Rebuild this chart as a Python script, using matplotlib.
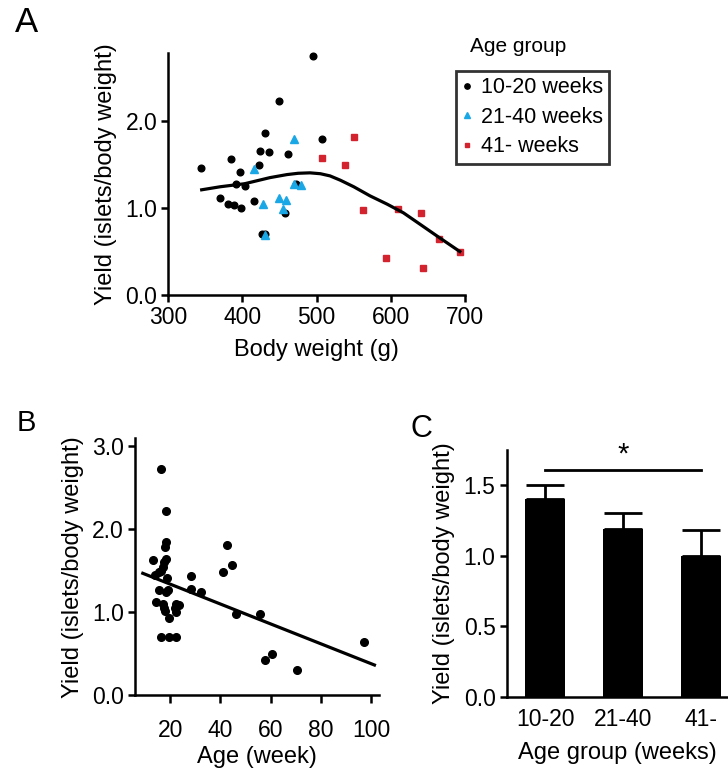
import matplotlib.pyplot as plt
import numpy as np

plt.rcParams['font.family'] = ['Liberation Sans', 'DejaVu Sans']

# ---- panel A: yield vs body weight, by age group
bw_young = [344, 495, 449, 431, 507, 385, 424, 436, 461, 396, 422, 391, 403, 472,
            370, 381, 389, 398, 415, 458, 426, 430]
yield_young = [1.46, 2.75, 2.23, 1.86, 1.80, 1.56, 1.66, 1.64, 1.62, 1.41, 1.49, 1.28,
               1.25, 1.28, 1.12, 1.05, 1.03, 1.00, 1.08, 0.94, 0.70, 0.70]
bw_mid = [469, 416, 469, 479, 449, 459, 428, 454, 430]
yield_mid = [1.80, 1.45, 1.28, 1.26, 1.11, 1.09, 1.05, 0.99, 0.69]
bw_old = [550, 507, 538, 562, 609, 641, 665, 693, 593, 643]
yield_old = [1.82, 1.58, 1.49, 0.98, 0.99, 0.94, 0.64, 0.50, 0.42, 0.31]
# smoothed fit
fit_bw = [345, 370, 403, 437, 460, 475, 491, 505, 518, 532, 550, 572, 595, 617, 640, 662, 693]
fit_yield = [1.21, 1.245, 1.28, 1.35, 1.385, 1.40, 1.405, 1.395, 1.37, 1.32, 1.245, 1.14,
             1.045, 0.945, 0.81, 0.68, 0.50]

# ---- panel B: yield vs age
age = [16.3, 18.5, 18.5, 18.1, 13.0, 18.5, 17.6, 17.3, 16.5, 15.6, 14.1, 18.8, 15.7,
       19.1, 18.5, 28.2, 28.2, 32.2, 14.4, 17.3, 17.5, 17.9, 19.6, 22.5, 23.5, 21.9,
       22.3, 16.3, 19.6, 22.3, 41.0, 42.8, 44.8, 46.3, 55.9, 57.8, 60.5, 70.5, 97.3]
yield_age = [2.73, 2.22, 1.85, 1.79, 1.63, 1.64, 1.61, 1.55, 1.50, 1.48, 1.45, 1.41,
             1.27, 1.27, 1.24, 1.44, 1.28, 1.25, 1.12, 1.10, 1.05, 1.01, 0.93, 1.10,
             1.09, 1.05, 1.00, 0.70, 0.70, 0.70, 1.48, 1.81, 1.57, 0.98, 0.98, 0.42,
             0.50, 0.31, 0.64]
reg_x = [9.1, 101.4]
reg_y = [1.47, 0.365]

# ---- panel C: mean yield per age group
groups = ['10-20', '21-40', '41-']
means = [1.40, 1.19, 1.00]
sem = [0.105, 0.11, 0.18]

W, H = 728, 777
fig = plt.figure(figsize=(W / 100, H / 100), dpi=100)

def box(l, t, r, b):
    return [l / W, 1 - b / H, (r - l) / W, (b - t) / H]

def style(ax):
    for s in ['top', 'right']:
        ax.spines[s].set_visible(False)
    for s in ['left', 'bottom']:
        ax.spines[s].set_linewidth(1.8)
    ax.tick_params(direction='out', width=1.8, length=5, labelsize=16.5, pad=3)

cyan = '#1AA7E6'
red = '#D2232E'
LAB = 17

# A
axA = fig.add_axes(box(168.3, 53.3, 465, 295))
style(axA)
axA.plot(bw_young, yield_young, 'o', color='black', ms=4.8, clip_on=False, label='10-20 weeks')
axA.plot(bw_mid, yield_mid, '^', color=cyan, ms=5.2, clip_on=False, label='21-40 weeks')
axA.plot(bw_old, yield_old, 's', color=red, ms=4.4, clip_on=False, label='41- weeks')
axA.plot(fit_bw, fit_yield, '-', color='black', lw=2.3)
axA.set_xlim(300, 700)
axA.set_ylim(0, 2.78)
axA.set_xticks([300, 400, 500, 600, 700])
axA.set_yticks([0, 1, 2])
axA.set_yticklabels(['0.0', '1.0', '2.0'])
axA.set_xlabel('Body weight (g)', fontsize=LAB, labelpad=7)
axA.set_ylabel('Yield (islets/body weight)', fontsize=LAB, labelpad=6)
leg = axA.legend(loc='upper left', bbox_to_anchor=(456 / W, 1 - 70.7 / H),
                 bbox_transform=fig.transFigure, fontsize=15.5, frameon=True,
                 fancybox=False, handlelength=0.4, handletextpad=0.45,
                 labelspacing=0.4, borderpad=0.3, borderaxespad=0, markerscale=0.8)
leg.get_frame().set_edgecolor('black')
leg.get_frame().set_linewidth(2)
fig.text(470 / W, 1 - 47 / H, 'Age group', fontsize=15, ha='left', va='center')

# B
axB = fig.add_axes(box(135, 438, 378.7, 695.3))
style(axB)
axB.plot(age, yield_age, 'o', color='black', ms=5.5, clip_on=False)
axB.plot(reg_x, reg_y, '-', color='black', lw=2.3)
axB.set_xlim(6, 103.1)
axB.set_ylim(0, 3.1)
axB.set_xticks([20, 40, 60, 80, 100])
axB.set_yticks([0, 1, 2, 3])
axB.set_yticklabels(['0.0', '1.0', '2.0', '3.0'])
axB.tick_params(axis='x', length=6, pad=11)
axB.set_xlabel('Age (week)', fontsize=LAB, labelpad=3)
axB.set_ylabel('Yield (islets/body weight)', fontsize=LAB, labelpad=6)

# C
axC = fig.add_axes(box(506.7, 450, 728, 696.7))
style(axC)
xpos = np.arange(len(groups))
axC.bar(xpos, means, width=0.51, color='black')
axC.errorbar(xpos, means, yerr=[[0] * len(sem), sem], fmt='none', ecolor='black',
             elinewidth=2, capsize=14, capthick=2)
axC.plot([0, 2], [1.606, 1.606], '-', color='black', lw=2)
axC.text(1, 1.62, '*', ha='center', va='bottom', fontsize=21)
axC.set_xlim(-0.49, 2.34)
axC.set_ylim(0, 1.75)
axC.set_xticks(xpos)
axC.set_xticklabels(groups)
axC.tick_params(axis='x', length=0, pad=8)
axC.set_yticks([0, 0.5, 1.0, 1.5])
axC.set_yticklabels(['0.0', '0.5', '1.0', '1.5'])
axC.set_xlabel('Age group (weeks)', fontsize=LAB, labelpad=8)
axC.set_ylabel('Yield (islets/body weight)', fontsize=LAB, labelpad=6)

fig.text(15 / W, 1 - 23 / H, 'A', fontsize=25, ha='left', va='center')
fig.text(17 / W, 1 - 423 / H, 'B', fontsize=21, ha='left', va='center')
fig.text(410 / W, 1 - 429 / H, 'C', fontsize=22, ha='left', va='center')

fig.savefig('out.png', dpi=100)
